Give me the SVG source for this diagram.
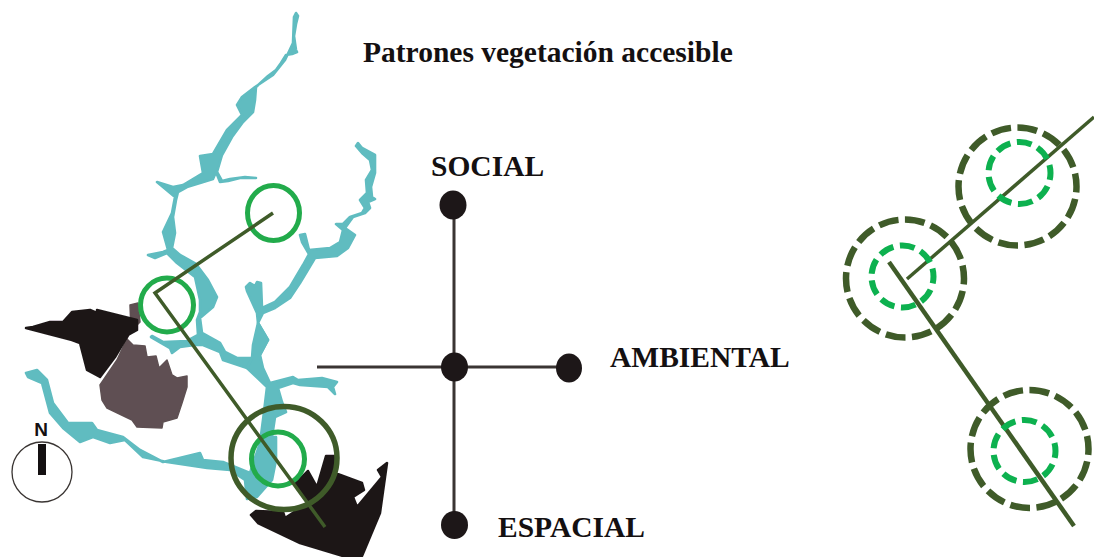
<svg xmlns="http://www.w3.org/2000/svg" width="1094" height="557" viewBox="0 0 1094 557">
<style>
.w{fill:#60bcc0;stroke:#60bcc0;stroke-width:2.600;stroke-linejoin:round}
.k{fill:#1d1718}
.m{stroke:#1d1718;stroke-width:2.500;stroke-linejoin:round}
.g{fill:#5e5052;stroke:#5e5052;stroke-width:1.500;stroke-linejoin:round}
.lbl{font-family:"Liberation Serif",serif;font-weight:700;fill:#141011;font-size:29.500px}
.ring{fill:none;stroke:#22ab4b;stroke-width:5}
.dk{stroke:#3f5b29;fill:none}
.od{stroke-width:6.500;stroke-dasharray:20 6.500;stroke-dashoffset:14}
.id{stroke:#0db14f;stroke-width:6;fill:none;stroke-dasharray:15 6.600;stroke-dashoffset:8}
.ax{stroke:#3a3533;stroke-width:3;fill:none}
</style>
<defs><filter id="soft" x="-5%" y="-5%" width="110%" height="110%"><feGaussianBlur stdDeviation="0.6"/></filter></defs>
<rect width="1094" height="557" fill="#fff"/>
<g id="map" filter="url(#soft)">
<path class="w" d="M296 13L298 16L296 24L294 36L296 50L297 52L292 54L286 55L281 63L276 70L268 76L256 87L255 100L253 112L243 122L232 137L222 155L217 172L222 181L230 179L245 177L256 178L240 178L228 181L220 182L216 172L213 179L187 187L178 192L176 200L173 217L175 233L172 248L180 255L196 264L208 280L217 297L213 307L200 318L202 333L220 343L225 352L237 358L252 358L252 366L247 368L223 360L220 352L203 345L195 345L180 347L172 353L170 348L151 337L152 336L163 342L187 341L198 335L197 320L200 312L200 300L195 277L177 263L167 253L155 258L148 255L163 252L168 250L163 232L172 213L175 197L157 182L173 187L183 185L203 173L200 156L213 154L227 130L242 115L237 105L242 97L255 87L273 75L285 60L293 43L294 17Z"/>
<path class="w" d="M262 343L268 340L258 323L257 313L247 291L246 287L250 283L255 286L257 282L261 283L262 308L275 302L290 287L303 265L309 254L302 242L300 235L305 234L309 250L330 248L340 242L343 230L336 224L343 224L350 217L362 213L365 208L360 200L367 193L366 180L372 170L370 160L362 153L356 146L358 143L362 148L375 155L375 173L371 187L372 197L375 199L368 202L370 208L365 213L353 217L345 228L355 235L348 248L337 256L315 258L300 283L290 298L275 308L263 313L258 323L268 340L260 355Z"/>
<path class="w" d="M258 323L268 340L260 355L263 368L270 383L293 377L298 380L322 378L337 382L333 387L335 394L328 387L300 385L293 383L278 388L282 402L286 412L275 417L272 437L276 437L276 460L272 480L257 497L247 499L245 480L230 470L207 468L167 462L143 457L125 440L110 443L93 437L80 442L63 428L50 413L42 383L28 377L26 373L37 370L47 380L53 403L68 423L92 423L97 430L123 437L140 450L163 462L200 453L203 460L223 462L250 473L260 443L263 420L267 387L247 368L252 358L253 345Z"/>
<path class="g" d="M130 305L138 303L140 322L125 337L133 345L145 346L147 357L156 356L159 368L167 360L172 375L177 378L187 376L187 387L182 403L177 418L163 422L162 428L137 427L132 420L107 408L102 400L100 385L117 360L131 330Z"/>
<path class="k m" d="M26 328L33 327L50 322L63 322L72 312L90 310L97 313L97 310L137 320L137 330L128 335L115 357L100 377L87 370L80 343L72 340Z"/>
<path class="k m" d="M251 515L256 511L283 512L285 518L308 503L296 483L308 471L317 487L326 456L334 456L335 473L362 483L364 490L353 497L357 507L382 477L378 470L387 463L380 513L362 556L343 556L300 543L258 523Z"/>
</g>
<g id="compass">
<circle cx="42" cy="472" r="30" fill="#fff" stroke="#3a3533" stroke-width="1.300"/>
<rect x="38" y="444" width="8" height="31" fill="#141011"/>
<text x="41" y="436" text-anchor="middle" font-family="Liberation Sans, sans-serif" font-weight="700" font-size="19" fill="#141011">N</text>
</g>
<g id="map-rings">
<ellipse class="ring" cx="273.500" cy="213" rx="26" ry="27.500"/>
<ellipse class="ring" cx="167" cy="305" rx="26.500" ry="27"/>
<ellipse class="ring" cx="278" cy="459" rx="26.500" ry="27"/>
<ellipse cx="284" cy="458" rx="53" ry="51.500" fill="none" stroke="#3f5b29" stroke-width="5.500"/>
</g>
<g id="connectors">
<polyline class="dk" stroke-width="3.500" points="273,213 155,293 325,527"/>
<line class="ax" x1="454" y1="205" x2="454" y2="525"/>
<line class="ax" x1="317" y1="367" x2="569" y2="367"/>
<line class="dk" stroke-width="3.500" x1="907" y1="279" x2="1094" y2="117"/>
<line class="dk" stroke-width="4.500" x1="889" y1="262" x2="1074" y2="526"/>
</g>
<g id="node-social"><ellipse class="k" cx="453" cy="205" rx="13.500" ry="14.500"/><text class="lbl" x="431" y="176">SOCIAL</text></g>
<g id="node-centro"><ellipse class="k" cx="454.500" cy="367" rx="13.500" ry="14.500"/></g>
<g id="node-ambiental"><ellipse class="k" cx="569" cy="368" rx="13" ry="14.500"/><text class="lbl" x="610" y="367">AMBIENTAL</text></g>
<g id="node-espacial"><ellipse class="k" cx="454.500" cy="525" rx="13.500" ry="14"/><text class="lbl" x="498" y="537">ESPACIAL</text></g>
<g id="title"><text class="lbl" x="363" y="62">Patrones vegetación accesible</text></g>
<g id="patron-1"><circle class="dk od" cx="1017.500" cy="186.500" r="59"/><circle class="id" cx="1019.500" cy="173" r="31"/></g>
<g id="patron-2"><circle class="dk od" cx="905" cy="278.500" r="59"/><circle class="id" cx="902.500" cy="276.500" r="31"/></g>
<g id="patron-3"><circle class="dk od" cx="1029.500" cy="449" r="59"/><circle class="id" cx="1024.500" cy="451" r="31"/></g>
</svg>
